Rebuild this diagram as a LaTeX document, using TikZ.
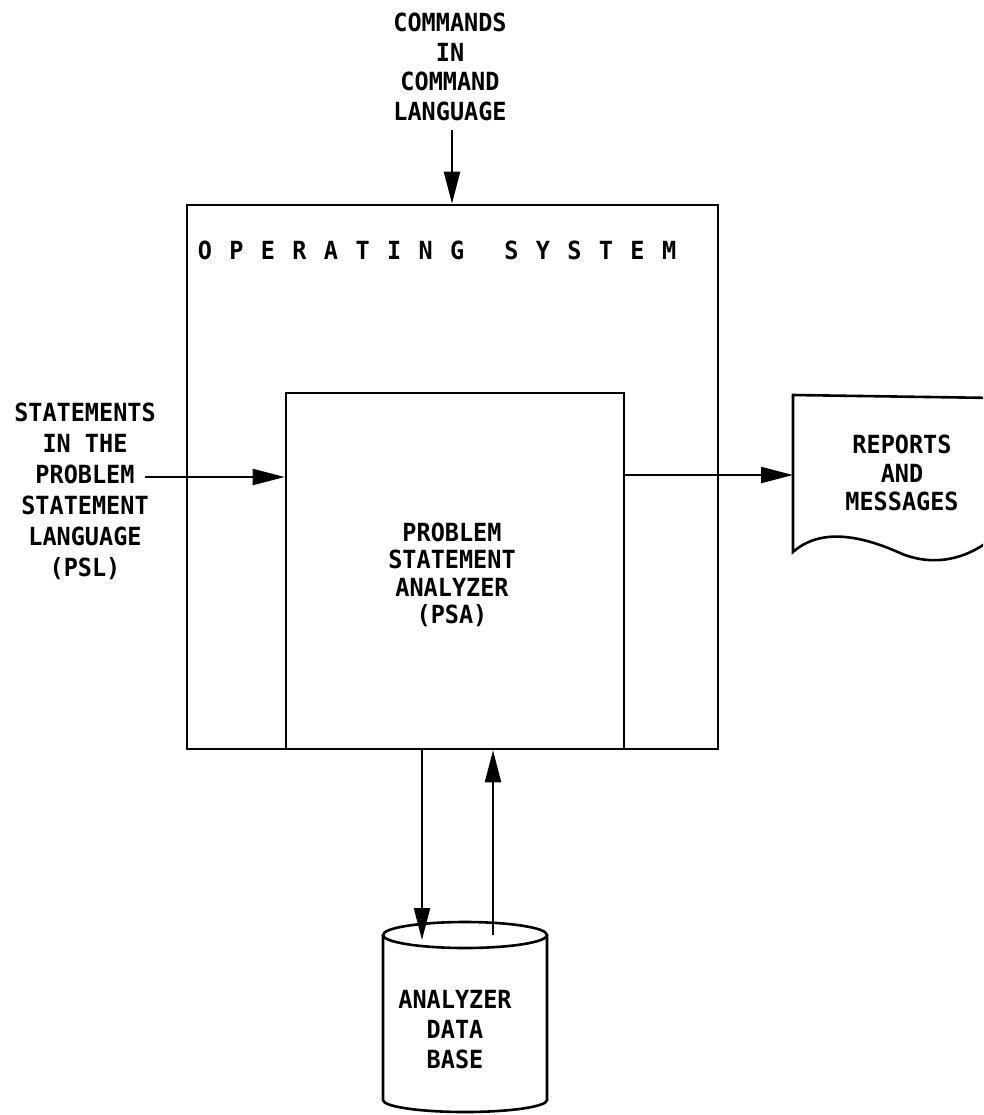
\documentclass[tikz,border=0pt]{standalone}
\usepackage{fontspec}
\newfontfamily\mono[FakeStretch=0.94]{DejaVu Sans Mono}
\usetikzlibrary{arrows.meta}
\newcommand\lsp{\hskip17.4pt}
\begin{document}
\begin{tikzpicture}[x=1pt,y=-1pt,line width=2.4pt,
  txt/.style={font=\mono\bfseries\fontsize{25}{30}\selectfont,align=center,inner sep=0pt},
  arr/.style={-{Triangle[length=32pt,width=16pt]},line width=2.2pt},
  box/.style={draw,line width=2.6pt,inner sep=0pt}]
\useasboundingbox (0,0) rectangle (983,1115);
\clip (0,0) rectangle (983,1115);
% boxes
\node[box,minimum width=531pt,minimum height=544pt] (os) at (452.5,477) {};
\node[box,minimum width=338pt,minimum height=356pt] (psa) at (455,571) {};
\node[txt] (ostxt) at (437,250) {O\lsp P\lsp E\lsp R\lsp A\lsp T\lsp I\lsp N\lsp G\hskip40pt S\lsp Y\lsp S\lsp T\lsp E\lsp M};
\node[txt,font=\mono\bfseries\fontsize{25}{27.3}\selectfont] (psatxt) at (452,575) {PROBLEM\\STATEMENT\\ANALYZER\\(PSA)};
% top input
\node[txt,font=\mono\bfseries\fontsize{25}{29.7}\selectfont] (cmd) at (450,67) {COMMANDS\\IN\\COMMAND\\LANGUAGE};
\coordinate (cmdtail) at (452,130);
\draw[arr] (cmdtail) -- (os.north -| cmdtail);
% left input
\node[txt,font=\mono\bfseries\fontsize{25}{31}\selectfont] (psl) at (85,491) {STATEMENTS\\IN THE\\PROBLEM\\STATEMENT\\LANGUAGE\\(PSL)};
\coordinate (psltail) at (145,477);
\draw[arr] (psltail) -- (psa.west |- psltail);
% reports document
\coordinate (repin) at (793,475);
\draw[line width=2.6pt] (995,398) -- (793,395) -- (793,552)
  .. controls (820,528) and (860,535) .. (900,553)
  .. controls (930,566) and (965,562) .. (995,536);
\node[txt,font=\mono\bfseries\fontsize{25}{28.5}\selectfont] (rep) at (902,473) {REPORTS\\AND\\MESSAGES};
\draw[arr] (psa.east |- repin) -- (repin);
% database cylinder
\draw[line width=2.6pt] (465,935) ellipse [x radius=82pt,y radius=13pt];
\draw[line width=2.6pt] (383,935) -- (383,1100) arc[start angle=180,end angle=360,x radius=82pt,y radius=12pt] -- (547,935);
\node[txt] (db) at (455,1030) {ANALYZER\\DATA\\BASE};
\coordinate (dbin) at (422,940);
\coordinate (dbout) at (493,935);
\draw[arr] (psa.south -| dbin) -- (dbin);
\draw[arr] (dbout) -- (psa.south -| dbout);
\end{tikzpicture}
\end{document}
